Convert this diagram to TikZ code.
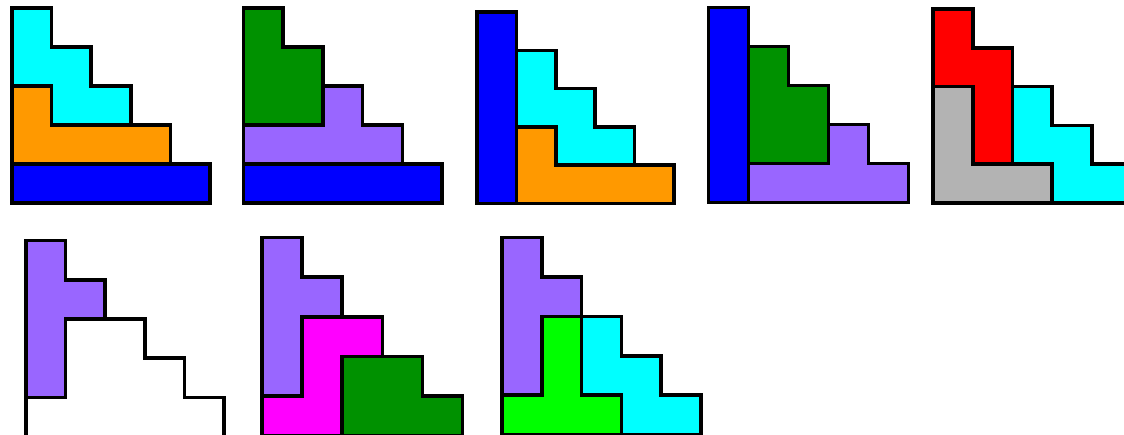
\documentclass[tikz,border=0pt]{standalone}
\definecolor{pcyan}{RGB}{0,255,255}
\definecolor{porange}{RGB}{255,153,0}
\definecolor{pblue}{RGB}{0,0,255}
\definecolor{pgreen}{RGB}{0,145,0}
\definecolor{ppurple}{RGB}{153,102,255}
\definecolor{pred}{RGB}{255,0,0}
\definecolor{pgray}{RGB}{179,179,179}
\definecolor{pmagenta}{RGB}{255,0,255}
\definecolor{plime}{RGB}{0,255,0}
\tikzset{piece/.style={draw=black, line width=3.6pt, line join=miter}}
\begin{document}
\begin{tikzpicture}[x=1pt,y=-1pt]
\useasboundingbox (0,0) rectangle (1124,434);
\clip (0,0) rectangle (1124,434);
% Figure 1
\begin{scope}[shift={(12,8)}, xscale=39.6, yscale=39]
\path[piece, fill=pcyan] (0,0)--(1,0)--(1,1)--(2,1)--(2,2)--(3,2)--(3,3)--(1,3)--(1,2)--(0,2)--cycle;
\path[piece, fill=porange] (0,2)--(1,2)--(1,3)--(4,3)--(4,4)--(0,4)--cycle;
\path[piece, fill=pblue] (0,4)--(5,4)--(5,5)--(0,5)--cycle;
\end{scope}
% Figure 2
\begin{scope}[shift={(243.5,8)}, xscale=39.7, yscale=39]
\path[piece, fill=pgreen] (0,0)--(1,0)--(1,1)--(2,1)--(2,3)--(0,3)--cycle;
\path[piece, fill=ppurple] (2,2)--(3,2)--(3,3)--(4,3)--(4,4)--(0,4)--(0,3)--(2,3)--cycle;
\path[piece, fill=pblue] (0,4)--(5,4)--(5,5)--(0,5)--cycle;
\end{scope}
% Figure 3
\begin{scope}[shift={(477,12)}, xscale=39.4, yscale=38.3]
\path[piece, fill=pcyan] (1,1)--(2,1)--(2,2)--(3,2)--(3,3)--(4,3)--(4,4)--(2,4)--(2,3)--(1,3)--cycle;
\path[piece, fill=porange] (1,3)--(2,3)--(2,4)--(5,4)--(5,5)--(1,5)--cycle;
\path[piece, fill=pblue] (0,0)--(1,0)--(1,5)--(0,5)--cycle;
\end{scope}
% Figure 4
\begin{scope}[shift={(708.5,7.5)}, xscale=40, yscale=39]
\path[piece, fill=pgreen] (1,1)--(2,1)--(2,2)--(3,2)--(3,4)--(1,4)--cycle;
\path[piece, fill=ppurple] (3,3)--(4,3)--(4,4)--(5,4)--(5,5)--(1,5)--(1,4)--(3,4)--cycle;
\path[piece, fill=pblue] (0,0)--(1,0)--(1,5)--(0,5)--cycle;
\end{scope}
% Figure 5
\begin{scope}[shift={(933,9)}, xscale=39.7, yscale=38.8]
\path[piece, fill=pred] (0,0)--(1,0)--(1,1)--(2,1)--(2,4)--(1,4)--(1,2)--(0,2)--cycle;
\path[piece, fill=pgray] (0,2)--(1,2)--(1,4)--(3,4)--(3,5)--(0,5)--cycle;
\path[piece, fill=pcyan] (2,2)--(3,2)--(3,3)--(4,3)--(4,4)--(5,4)--(5,5)--(3,5)--(3,4)--(2,4)--cycle;
\end{scope}
% Figure 6
\begin{scope}[shift={(26,240.5)}, xscale=39.6, yscale=39.2]
\path[piece, fill=ppurple] (0,0)--(1,0)--(1,1)--(2,1)--(2,2)--(1,2)--(1,4)--(0,4)--cycle;
\path[piece, fill=white] (1,2)--(3,2)--(3,3)--(4,3)--(4,4)--(5,4)--(5,5)--(0,5)--(0,4)--(1,4)--cycle;
\end{scope}
% Figure 7
\begin{scope}[shift={(262,237.5)}, xscale=40.1, yscale=39.6]
\path[piece, fill=ppurple] (0,0)--(1,0)--(1,1)--(2,1)--(2,2)--(1,2)--(1,4)--(0,4)--cycle;
\path[piece, fill=pmagenta] (1,2)--(3,2)--(3,3)--(2,3)--(2,5)--(0,5)--(0,4)--(1,4)--cycle;
\path[piece, fill=pgreen] (2,3)--(4,3)--(4,4)--(5,4)--(5,5)--(2,5)--cycle;
\end{scope}
% Figure 8
\begin{scope}[shift={(502,237.5)}, xscale=39.8, yscale=39.4]
\path[piece, fill=ppurple] (0,0)--(1,0)--(1,1)--(2,1)--(2,2)--(1,2)--(1,4)--(0,4)--cycle;
\path[piece, fill=plime] (1,2)--(2,2)--(2,4)--(3,4)--(3,5)--(0,5)--(0,4)--(1,4)--cycle;
\path[piece, fill=pcyan] (2,2)--(3,2)--(3,3)--(4,3)--(4,4)--(5,4)--(5,5)--(3,5)--(3,4)--(2,4)--cycle;
\end{scope}
\end{tikzpicture}
\end{document}
